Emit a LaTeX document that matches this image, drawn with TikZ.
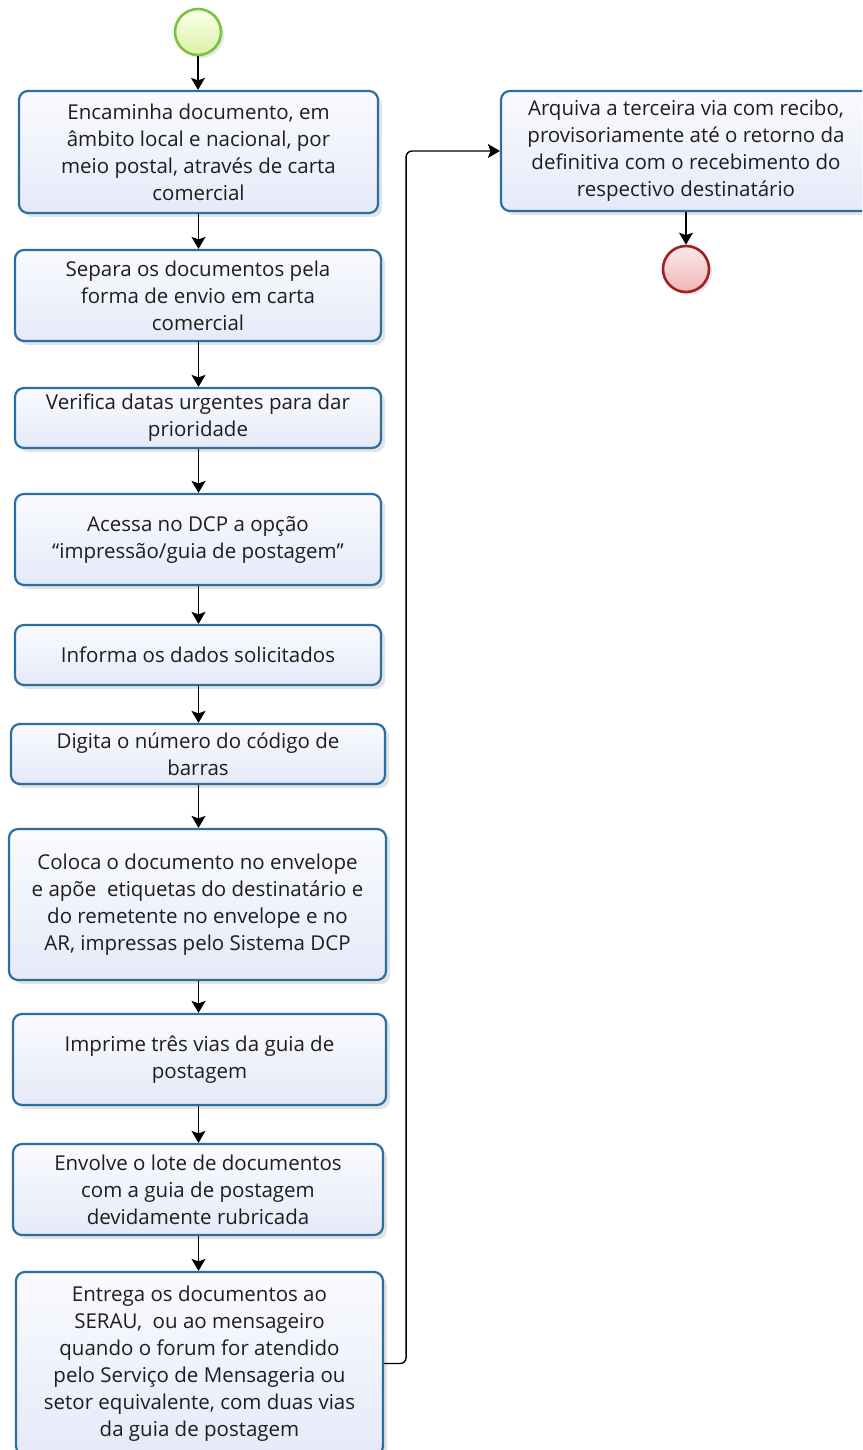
\documentclass[tikz,border=0pt]{standalone}
\usepackage{fontspec}
\setmainfont{Open Sans}
\usetikzlibrary{arrows.meta,shadows}
\definecolor{boxblue}{HTML}{2B6FA0}
\definecolor{boxfill}{HTML}{E6E9F8}
\definecolor{boxtop}{HTML}{FAFBFF}
\definecolor{txt}{HTML}{1E1E1E}
\definecolor{startgreen}{HTML}{7CC242}
\definecolor{startfillA}{HTML}{FAFFE8}
\definecolor{startfillB}{HTML}{DCF2A6}
\definecolor{endred}{HTML}{A31F24}
\definecolor{endfillA}{HTML}{FBE8E8}
\definecolor{endfillB}{HTML}{F0B8B8}
\begin{document}
\begin{tikzpicture}[x=1pt,y=-1pt,
  stepbox/.style={draw=boxblue, line width=2.2pt, rounded corners=9pt,
    top color=boxtop, bottom color=boxfill,
    drop shadow={shadow xshift=4pt,shadow yshift=-4pt,opacity=0.22},
    align=center, text=txt, font=\fontsize{20.5}{27}\selectfont, inner sep=0pt},
  evt/.style={circle, minimum size=46pt, line width=2.6pt, inner sep=0pt,
    drop shadow={shadow xshift=3pt,shadow yshift=-3pt,opacity=0.2}},
  flow/.style={draw=black, line width=1.4pt, -{Stealth[length=12pt,width=14pt,inset=2.5pt]}}]
\useasboundingbox (0,0) rectangle (862,1450);
\clip (0,0) rectangle (862,1450);

\node[evt, draw=startgreen, top color=startfillA, bottom color=startfillB] (start) at (198,32) {};

\node[stepbox, minimum width=359pt, minimum height=122pt] (b1) at (198.5,152)
  {Encaminha documento, em\\âmbito local e nacional, por\\meio postal, através de carta\\comercial};
\node[stepbox, minimum width=366pt, minimum height=91pt] (b2) at (198,295.5)
  {Separa os documentos pela\\forma de envio em carta\\comercial};
\node[stepbox, minimum width=366pt, minimum height=60pt] (b3) at (198,418)
  {Verifica datas urgentes para dar\\prioridade};
\node[stepbox, minimum width=366pt, minimum height=91pt] (b4) at (198,539.5)
  {Acessa no DCP a opção\\“impressão/guia de postagem”};
\node[stepbox, minimum width=366pt, minimum height=60pt] (b5) at (198,655)
  {Informa os dados solicitados};
\node[stepbox, minimum width=374pt, minimum height=60pt] (b6) at (198,754)
  {Digita o número do código de\\barras};
\node[stepbox, minimum width=377pt, minimum height=151pt] (b7) at (197.5,904.5)
  {Coloca o documento no envelope\\e apõe\ \ etiquetas do destinatário e\\do remetente no envelope e no\\AR, impressas pelo Sistema DCP};
\node[stepbox, minimum width=373pt, minimum height=91pt] (b8) at (199.5,1059.5)
  {Imprime três vias da guia de\\postagem};
\node[stepbox, minimum width=370pt, minimum height=91pt] (b9) at (198,1189.5)
  {Envolve o lote de documentos\\com a guia de postagem\\devidamente rubricada};
\node[stepbox, minimum width=367pt, minimum height=183pt] (b10) at (199.5,1363.5)
  {Entrega os documentos ao\\SERAU,\ \ ou ao mensageiro\\quando o forum for atendido\\pelo Serviço de Mensageria ou\\setor equivalente, com duas vias\\da guia de postagem};

\node[stepbox, minimum width=370pt, minimum height=120pt] (b11) at (686,151)
  {Arquiva a terceira via com recibo,\\provisoriamente até o retorno da\\definitiva com o recebimento do\\respectivo destinatário};

\node[evt, draw=endred, top color=endfillA, bottom color=endfillB] (end) at (686,269) {};

\draw[flow] (start.south) -- (start.south |- b1.north);
\draw[flow] (b1.south) -- (b1.south |- b2.north);
\draw[flow] (b1.south |- b2.south) -- (b1.south |- b3.north);
\draw[flow] (b1.south |- b3.south) -- (b1.south |- b4.north);
\draw[flow] (b1.south |- b4.south) -- (b1.south |- b5.north);
\draw[flow] (b1.south |- b5.south) -- (b1.south |- b6.north);
\draw[flow] (b1.south |- b6.south) -- (b1.south |- b7.north);
\draw[flow] (b1.south |- b7.south) -- (b1.south |- b8.north);
\draw[flow] (b1.south |- b8.south) -- (b1.south |- b9.north);
\draw[flow] (b1.south |- b9.south) -- (b1.south |- b10.north);
\draw[flow, rounded corners=6pt] (b10.east) -- ++(22,0) |- (b11.west);
\draw[flow] (b11.south) -- (end.north);
\end{tikzpicture}
\end{document}
